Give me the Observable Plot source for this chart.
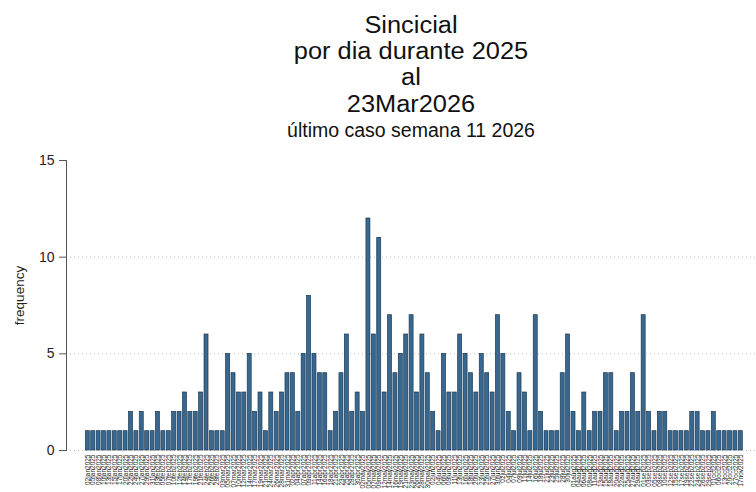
<!DOCTYPE html>
<html>
<head>
<meta charset="utf-8">
<script src="https://cdn.jsdelivr.net/npm/d3@7"></script>
<script src="https://cdn.jsdelivr.net/npm/@observablehq/plot@0.6"></script>
<style>
  html, body { margin: 0; padding: 0; background: #fff; }
  body { width: 756px; height: 492px; position: relative; overflow: hidden; font-family: "Liberation Sans", Arial, sans-serif; }
  .t { position: absolute; left: 0; width: 822px; text-align: center; font-size: 23.5px; line-height: 26.3px; height: 26.3px; color: #111; white-space: nowrap; transform: scaleX(1.08); transform-origin: 411px 0; }
  #subtitle { position: absolute; top: 120.3px; left: 0; width: 822px; text-align: center; font-size: 19.5px; line-height: 20px; color: #111; }
  #chart { position: absolute; top: 140px; left: 0; }
</style>
</head>
<body>
<div class="t" style="top:11.7px">Sincicial</div>
<div class="t" style="top:38px">por dia durante 2025</div>
<div class="t" style="top:64.3px">al</div>
<div class="t" style="top:90.6px">23Mar2026</div>
<div id="subtitle">último caso semana 11 2026</div>
<div id="chart"></div>
<script>
const dates = [
  "02jan2025","05jan2025","08jan2025","10jan2025","13jan2025","15jan2025","17jan2025","20jan2025","22jan2025","24jan2025","27jan2025","29jan2025","31jan2025",
  "03feb2025","05feb2025","07feb2025","10feb2025","12feb2025","14feb2025","17feb2025","19feb2025","21feb2025","24feb2025","26feb2025","28feb2025",
  "03mar2025","05mar2025","07mar2025","10mar2025","12mar2025","14mar2025","17mar2025","19mar2025","21mar2025","24mar2025","26mar2025","28mar2025","31mar2025",
  "02apr2025","04apr2025","07apr2025","09apr2025","11apr2025","14apr2025","16apr2025","18apr2025","21apr2025","23apr2025","25apr2025","28apr2025","30apr2025",
  "02may2025","05may2025","07may2025","09may2025","12may2025","14may2025","16may2025","19may2025","21may2025","23may2025","26may2025","28may2025","30may2025",
  "02jun2025","04jun2025","06jun2025","09jun2025","11jun2025","13jun2025","16jun2025","18jun2025","20jun2025","23jun2025","25jun2025","27jun2025","30jun2025",
  "02jul2025","04jul2025","07jul2025","09jul2025","11jul2025","14jul2025","16jul2025","18jul2025","21jul2025","23jul2025","25jul2025","28jul2025","30jul2025",
  "01aug2025","04aug2025","06aug2025","08aug2025","11aug2025","13aug2025","15aug2025","18aug2025","20aug2025","22aug2025","25aug2025","27aug2025","29aug2025",
  "01sep2025","03sep2025","05sep2025","08sep2025","10sep2025","12sep2025","15sep2025","17sep2025","19sep2025","22sep2025","24sep2025","26sep2025","29sep2025",
  "01oct2025","06oct2025","13oct2025","20oct2025","27oct2025",
  "17nov2025"
];
const counts = [
  1,1,1,1,1,1,1,1,2,1,2,1,1,2,1,1,2,2,3,2,2,3,6,1,1,1,5,4,3,
  3,5,2,3,1,3,2,3,4,4,2,5,8,5,4,4,1,2,4,6,2,3,2,12,6,11,3,7,4,5,
  6,7,3,6,4,2,1,5,3,3,6,5,4,3,5,4,3,7,5,2,1,4,3,1,7,2,1,1,1,4,6,
  2,1,3,1,2,2,4,4,1,2,2,4,2,7,2,1,2,2,1,1,1,1,2,2,1,1,2,1,1,1,1,1
];
const yTicks = [0, 5, 10, 15];
const gridTicks = [0, 5, 10];

const data = dates.map((d, i) => ({date: d, n: counts[i]}));

const chart = Plot.plot({
  width: 756,
  height: 352,
  marginLeft: 66,
  marginRight: 0,
  marginTop: 20,
  marginBottom: 42,
  style: {fontFamily: "'Liberation Sans', Arial, sans-serif", background: "#fff", color: "#222"},
  x: {type: "band", domain: dates, range: [85.3, 742.3], paddingInner: 0.26, paddingOuter: 0},
  y: {domain: [0, 15]},
  marks: [
    Plot.gridY(gridTicks, {stroke: "#bbb", strokeOpacity: 1, strokeDasharray: "1,3"}),
    Plot.barY(data, {x: "date", y: "n", fill: "#386890", stroke: "#1c3a54", strokeWidth: 0.7}),
    Plot.frame({anchor: "left", stroke: "#555"}),
    Plot.axisY({ticks: yTicks, tickSize: 7, tickPadding: 5, fontSize: 14, label: null, stroke: "#555", fill: "#222"}),
    Plot.text(["frequency"], {frameAnchor: "left", textAnchor: "middle", rotate: -90, dx: -47, dy: -10, fontSize: 13.5, fill: "#222"}),
    Plot.axisX({tickRotate: -90, fontSize: 6.5, tickSize: 0, tickPadding: 4, label: null, fill: "#222"})
  ]
});
document.getElementById("chart").appendChild(chart);
</script>
</body>
</html>
